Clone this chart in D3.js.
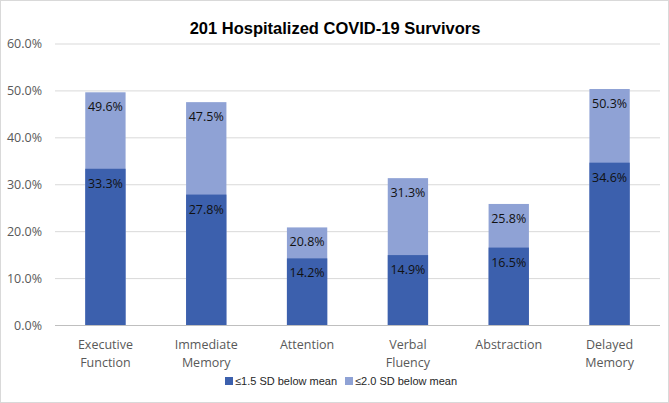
<!DOCTYPE html>
<html><head><meta charset="utf-8">
<script src="https://cdn.jsdelivr.net/npm/d3@7"></script>
<style>body{margin:0;background:#fff}svg{display:block}</style>
</head><body>
<svg id="c" width="669" height="403"></svg>
<script>
const categories = [["Executive","Function"],["Immediate","Memory"],["Attention"],["Verbal","Fluency"],["Abstraction"],["Delayed","Memory"]];
const sd15 = [33.3, 27.8, 14.2, 14.9, 16.5, 34.6];
const sd20 = [49.6, 47.5, 20.8, 31.3, 25.8, 50.3];
const yTicks = [0, 10, 20, 30, 40, 50, 60];
const seriesNames = ["≤1.5 SD below mean", "≤2.0 SD below mean"];
const title = "201 Hospitalized COVID-19 Survivors";

const dark = "#3c60ad", light = "#8fa2d5";
const svg = d3.select("#c");
svg.append("rect").attr("x",0.5).attr("y",0.5).attr("width",668).attr("height",402)
  .attr("fill","#fff").attr("stroke","#d9d9d9");

const x = d3.scaleBand().domain(d3.range(categories.length)).range([55, 660]).paddingInner(0.6).paddingOuter(0.3);
const y = d3.scaleLinear().domain([0, 60]).range([325, 43.5]);

svg.append("text").attr("x", 335).attr("y", 34).attr("text-anchor","middle")
  .attr("font-family","Liberation Sans, Arial, sans-serif").attr("font-weight","bold")
  .attr("font-size", 16.5).attr("fill","#000").text(title);

const ya = svg.append("g").attr("transform","translate(55,0)")
  .call(d3.axisLeft(y).tickValues(yTicks).tickSize(-605).tickFormat(d => d.toFixed(1) + "%"));
ya.select(".domain").remove();
ya.selectAll(".tick line").attr("stroke","#d9d9d9");
ya.selectAll(".tick").filter(d => d === 0).select("line").attr("stroke","#bfbfbf");
ya.selectAll(".tick text").attr("x",-13).attr("fill","#595959")
  .attr("font-family","Open Sans, Noto Sans, sans-serif").attr("font-size",12.5);

const g = svg.append("g");
const idx = d3.range(categories.length);
g.selectAll(".l").data(idx).join("rect")
  .attr("x", i => x(i)).attr("width", x.bandwidth())
  .attr("y", i => y(sd20[i])).attr("height", i => y(0) - y(sd20[i])).attr("fill", light);
g.selectAll(".d").data(idx).join("rect")
  .attr("x", i => x(i)).attr("width", x.bandwidth())
  .attr("y", i => y(sd15[i])).attr("height", i => y(0) - y(sd15[i])).attr("fill", dark);

const lab = (arr) => g.selectAll(null).data(idx).join("text")
  .attr("x", i => x(i) + x.bandwidth()/2).attr("y", i => y(arr[i]) + 19)
  .attr("text-anchor","middle").attr("font-family","Open Sans, Noto Sans, sans-serif")
  .attr("font-size",12.5).attr("fill","#111").text(i => arr[i].toFixed(1) + "%");
lab(sd20); lab(sd15);

const cl = svg.append("g");
idx.forEach(i => {
  categories[i].forEach((t, k) => {
    cl.append("text").attr("x", x(i) + x.bandwidth()/2).attr("y", 349 + k*18)
      .attr("text-anchor","middle").attr("font-family","Open Sans, Noto Sans, sans-serif")
      .attr("font-size",12.5).attr("fill","#595959").text(t);
  });
});

const lg = svg.append("g");
const lx = [225, 345];
seriesNames.forEach((n, k) => {
  lg.append("rect").attr("x", lx[k]).attr("y", 377).attr("width", 8).attr("height", 8).attr("fill", k ? light : dark);
  lg.append("text").attr("x", lx[k] + 10).attr("y", 385)
    .attr("font-family","Liberation Sans, Arial, sans-serif").attr("font-size",11).attr("fill","#262626").text(n);
});
</script>
</body></html>
